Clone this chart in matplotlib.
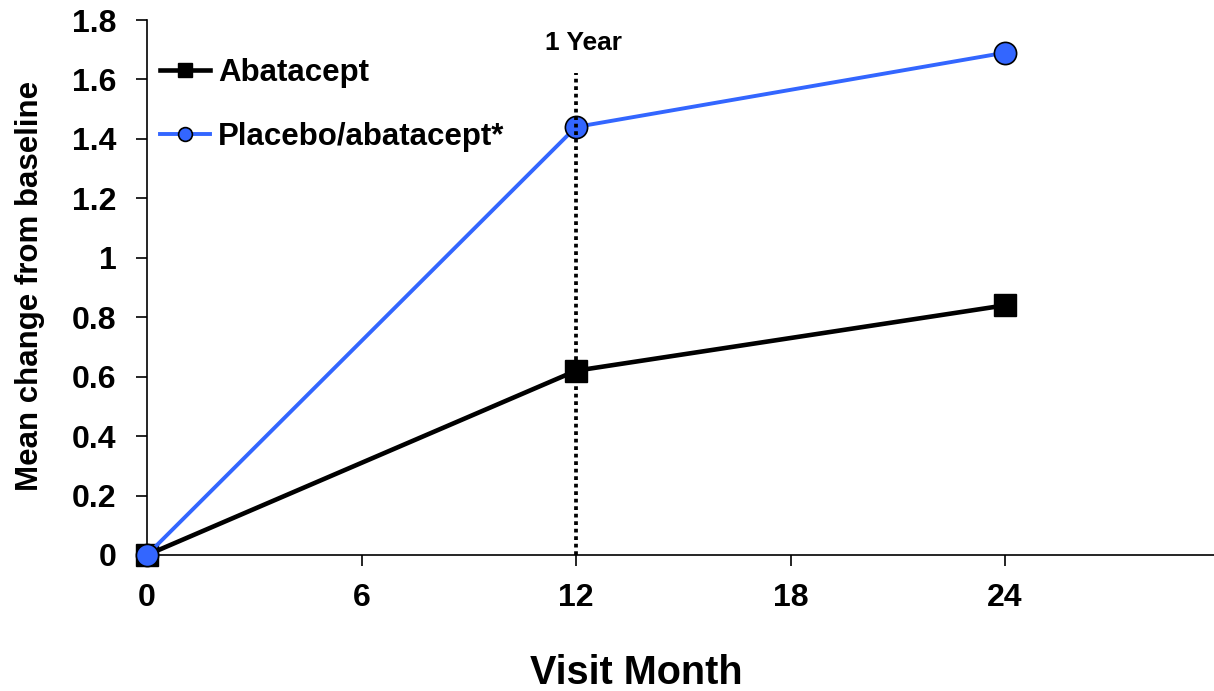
import matplotlib
matplotlib.use("Agg")
import matplotlib.pyplot as plt

months = [0, 12, 24]
abatacept = [0.0, 0.62, 0.84]
placebo_abatacept = [0.0, 1.44, 1.69]
x_ticks = [0, 6, 12, 18, 24]
y_ticks = [0, 0.2, 0.4, 0.6, 0.8, 1.0, 1.2, 1.4, 1.6, 1.8]
y_tick_labels = ["0", "0.2", "0.4", "0.6", "0.8", "1", "1.2", "1.4", "1.6", "1.8"]

plt.rcParams['font.family'] = ['Liberation Sans', 'DejaVu Sans']
plt.rcParams['font.weight'] = 'bold'

W, H = 1214, 691
fig = plt.figure(figsize=(W / 100, H / 100), dpi=100)
x0, x1 = 147, 1219.5
y0, y1 = 555, 20
ax = fig.add_axes([x0 / W, (H - y0) / H, (x1 - x0) / W, (y0 - y1) / H])

blue = '#3366FF'
ax.plot(months, abatacept, color='black', lw=3.3, marker='s', ms=16,
        mfc='black', mec='black', label='Abatacept', zorder=3, clip_on=False)
ax.plot(months, placebo_abatacept, color=blue, lw=2.8, marker='o', ms=16,
        mfc=blue, mec='black', mew=1.2, label='Placebo/abatacept*', zorder=4, clip_on=False)

ax.vlines(12, 0, 1.62, colors='black', linestyles=(0, (1, 1)), lw=2.7, zorder=5)
ax.text(12.2, 1.70, '1 Year', ha='center', va='baseline', fontsize=19, fontweight='bold')

ax.set_xlim(0, 30)
ax.set_ylim(0, 1.8)
ax.set_xticks(x_ticks)
ax.set_yticks(y_ticks)
ax.set_yticklabels(y_tick_labels)
ax.tick_params(axis='x', labelsize=23, length=8, width=1.2, direction='out', pad=12)
ax.tick_params(axis='y', labelsize=23, length=8, width=1.2, direction='out', pad=14)
for lab in ax.get_xticklabels() + ax.get_yticklabels():
    lab.set_fontweight('bold')

ax.spines['top'].set_visible(False)
ax.spines['right'].set_visible(False)
ax.spines['left'].set_linewidth(1.2)
ax.spines['bottom'].set_linewidth(1.2)

ax.set_xlabel('Visit Month', fontsize=28.5, fontweight='bold', labelpad=30,
              x=(636 - x0) / (x1 - x0))
ax.set_ylabel('Mean change from baseline', fontsize=22.5, fontweight='bold')
ax.yaxis.set_label_coords((45 - x0) / (x1 - x0), (y0 - 286) / (y0 - y1))

leg = ax.legend(loc='upper left', bbox_to_anchor=(160 / W, 1 - 58 / H),
                bbox_transform=fig.transFigure, frameon=False,
                fontsize=22.5, handlelength=1.6, handletextpad=0.26, labelspacing=1.1,
                borderaxespad=0, borderpad=0, markerscale=0.62)
for t in leg.get_texts():
    t.set_fontweight('bold')

fig.savefig('out.png', dpi=100)
